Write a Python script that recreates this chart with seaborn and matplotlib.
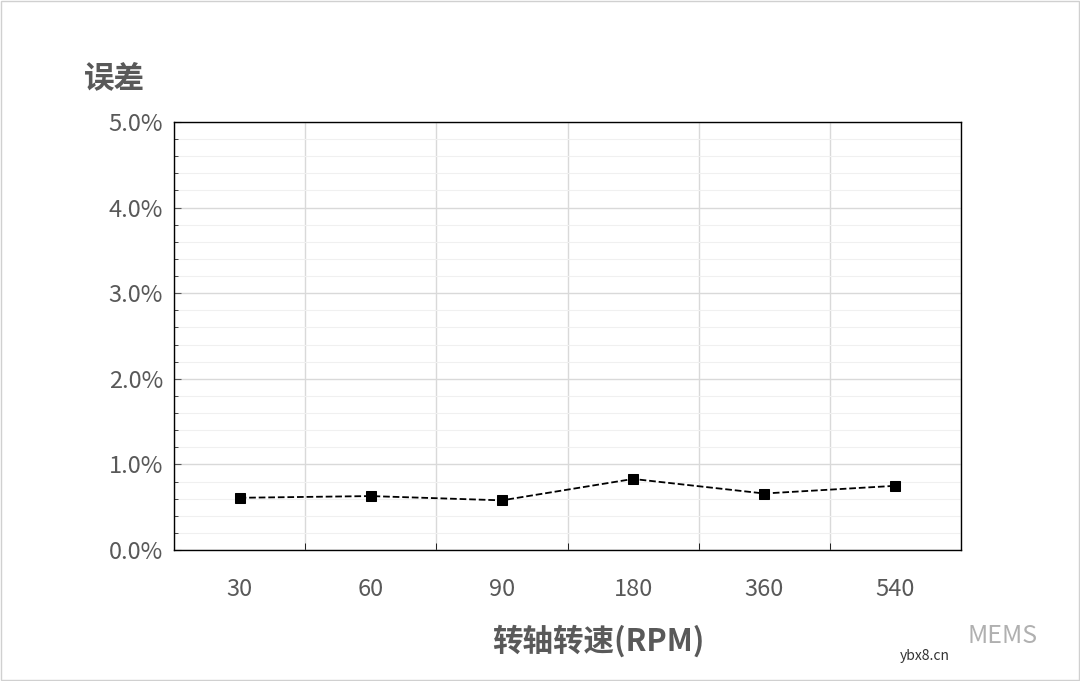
import matplotlib
matplotlib.use("Agg")
import matplotlib.pyplot as plt
import seaborn as sns
from matplotlib.ticker import MultipleLocator, FuncFormatter

speeds = ["30", "60", "90", "180", "360", "540"]
errors = [0.61, 0.63, 0.58, 0.83, 0.66, 0.75]

sns.set_style("white")
plt.rcParams['font.family'] = ['Noto Sans CJK SC', 'DejaVu Sans']

fig = plt.figure(figsize=(10.8, 6.81), dpi=100)
ax = fig.add_axes([174/1080, 1-550/681, (961-174)/1080, (550-122)/681])
x = list(range(len(speeds)))
sns.lineplot(x=x, y=errors, ax=ax, color="black", linestyle="--", linewidth=1.3,
             marker="s", markersize=7, markeredgecolor="black")
ax.set_xlim(-0.5, 5.5)
ax.set_ylim(0, 5)
ax.set_xticks(x)
ax.set_xticklabels(speeds)
ax.xaxis.set_minor_locator(MultipleLocator(1, offset=0.5))
ax.yaxis.set_major_locator(MultipleLocator(1))
ax.yaxis.set_minor_locator(MultipleLocator(0.2))
ax.yaxis.set_major_formatter(FuncFormatter(lambda v, p: f"{v:.1f}%"))
ax.grid(which="major", axis="y", color="#d9d9d9", linewidth=1)
ax.grid(which="minor", axis="y", color="#f0f0f0", linewidth=0.8)
ax.grid(which="minor", axis="x", color="#d9d9d9", linewidth=1)
ax.set_axisbelow(True)
for s in ax.spines.values():
    s.set_color("black"); s.set_linewidth(1)
ax.tick_params(axis="x", which="major", length=0, labelsize=17, colors="#595959", pad=20)
ax.tick_params(axis="x", which="minor", length=5, direction="in", color="black", bottom=True)
ax.tick_params(axis="y", which="major", length=5, direction="in", labelsize=17, colors="#595959", pad=8, left=True)
ax.tick_params(axis="y", which="minor", length=3, direction="in", left=True)
ax.set_xlabel("转轴转速(RPM)", fontsize=22, fontweight="bold", color="#595959")
ax.xaxis.set_label_coords(0.539, -0.175)
ax.set_ylabel("")
fig.text(84/1080, 1-78/681, "误差", fontsize=22, fontweight="bold", color="#595959", va="center")
fig.text(968/1080, 1-636/681, "MEMS", fontsize=18, color="#b0b0b0", va="center")
fig.text(900/1080, 1-656/681, "ybx8.cn", fontsize=10, color="#333333", va="center")
fig.patches.append(plt.Rectangle((0.001, 0.001), 0.998, 0.998, transform=fig.transFigure,
                                 fill=False, edgecolor="#d0d0d0", linewidth=1))
fig.savefig("out.png", dpi=100)
